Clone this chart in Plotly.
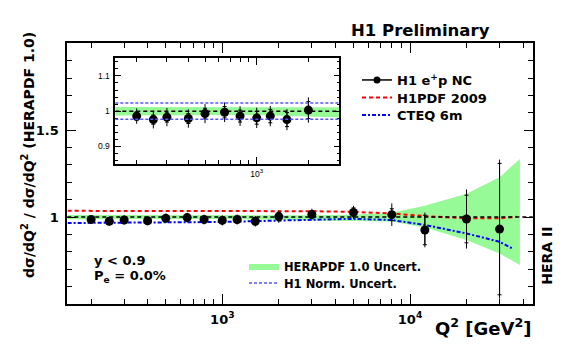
import plotly.graph_objects as go

W, H = 567, 354
def px(x): return x / W
def py(y): return 1 - y / H

# ---------------- data ----------------
q2 = [200, 250, 300, 400, 500, 650, 800, 1000, 1200, 1500, 2000, 3000, 5000, 8000, 12000, 20000, 30000]
ratio = [0.986, 0.976, 0.983, 0.979, 0.993, 0.997, 0.986, 0.981, 0.986, 0.976, 1.003,
         1.016, 1.027, 1.014, 0.926, 0.989, 0.931]
err_tot = [0.022, 0.025, 0.026, 0.026, 0.027, 0.028, 0.028, 0.029, 0.029, 0.030, 0.036,
           0.032, 0.038, 0.065, 0.100, 0.170, 0.400]
err_stat = [0.012, 0.013, 0.014, 0.014, 0.015, 0.016, 0.017, 0.018, 0.019, 0.020, 0.024,
            0.022, 0.026, 0.034, 0.085, 0.137, 0.378]
n_inset = 11  # points shown in the inset (Q2 <= 2000)

band_q2 = [150, 500, 1000, 2000, 3000, 5000, 8000, 12000, 20000, 30000, 38500]
band_hi = [1.012, 1.011, 1.010, 1.010, 1.011, 1.014, 1.025, 1.065, 1.135, 1.230, 1.335]
band_lo = [0.988, 0.989, 0.989, 0.985, 0.980, 0.978, 0.975, 0.940, 0.868, 0.790, 0.724]

h1pdf_q2 = [150, 1000, 3000, 5000, 8000, 12000, 20000, 30000, 37000]
h1pdf_r = [1.036, 1.036, 1.034, 1.030, 1.021, 1.006, 0.993, 0.993, 1.002]

cteq_q2 = [150, 300, 1000, 2000, 3000, 5000, 8000, 12000, 20000, 30000, 35000]
cteq_r = [0.966, 0.968, 0.972, 0.980, 0.986, 0.990, 0.983, 0.955, 0.906, 0.858, 0.820]

norm_hi, norm_lo = 1.023, 0.977
ref_level = 1.0

x_major = [1000, 10000]
x_major_text = ["10<sup>3</sup>", "10<sup>4</sup>"]
x_minor_main = [200, 300, 400, 500, 600, 700, 800, 900, 2000, 3000, 4000, 5000, 6000, 7000,
                8000, 9000, 20000, 30000, 40000]
x_minor_inset = [200, 300, 400, 500, 600, 700, 800, 900, 2000, 3000]
y_major_main = [1, 1.5]
y_minor_main = [0.6, 0.7, 0.8, 0.9, 1.1, 1.2, 1.3, 1.4, 1.6, 1.7, 1.8, 1.9]
y_major_inset = [0.9, 1, 1.1]
y_minor_inset = [0.86, 0.88, 0.92, 0.94, 0.96, 0.98, 1.02, 1.04, 1.06, 1.08, 1.12, 1.14]

GREEN = "rgb(150,250,150)"
BOLD = dict(family="DejaVu Sans", weight="bold", color="black")

fig = go.Figure()

# ---- main panel ----
fig.add_trace(go.Scatter(x=band_q2, y=band_lo, mode="lines", line=dict(width=0),
                         showlegend=False, hoverinfo="skip", xaxis="x", yaxis="y"))
fig.add_trace(go.Scatter(x=band_q2, y=band_hi, mode="lines", line=dict(width=0),
                         fill="tonexty", fillcolor=GREEN, name="HERAPDF 1.0 Uncert.",
                         legend="legend4", xaxis="x", yaxis="y"))
fig.add_trace(go.Scatter(x=h1pdf_q2, y=h1pdf_r, mode="lines",
                         line=dict(color="#FF0000", width=2, dash="4px,3px"),
                         name="H1PDF 2009", legend="legend2", xaxis="x", yaxis="y"))
fig.add_trace(go.Scatter(x=cteq_q2, y=cteq_r, mode="lines",
                         line=dict(color="#0000FF", width=2, dash="4px,2px,2px,2px"),
                         name="CTEQ 6m", legend="legend3", xaxis="x", yaxis="y"))
fig.add_trace(go.Scatter(x=q2, y=ratio, mode="markers",
                         marker=dict(size=9, color="black"),
                         error_y=dict(type="data", array=err_tot, color="black",
                                      thickness=1, width=0),
                         showlegend=False, xaxis="x", yaxis="y"))
fig.add_trace(go.Scatter(x=q2, y=ratio, mode="markers",
                         marker=dict(size=1, color="black"),
                         error_y=dict(type="data", array=err_stat, color="black",
                                      thickness=1, width=2),
                         showlegend=False, xaxis="x", yaxis="y"))
# legend entry for data
fig.add_trace(go.Scatter(x=[None], y=[None], mode="lines+markers",
                         marker=dict(size=7, color="black"), line=dict(color="black", width=1.5),
                         name="H1 e<sup>+</sup>p NC", legend="legend",
                         xaxis="x", yaxis="y"))
# legend entry for normalisation uncertainty
fig.add_trace(go.Scatter(x=[None], y=[None], mode="lines",
                         line=dict(color="#5555FF", width=1.5, dash="3px,2px"),
                         name="H1 Norm. Uncert.", legend="legend5",
                         xaxis="x", yaxis="y"))

# ---- inset ----
fig.add_trace(go.Scatter(x=band_q2, y=band_lo, mode="lines", line=dict(width=0),
                         showlegend=False, hoverinfo="skip", xaxis="x2", yaxis="y2"))
fig.add_trace(go.Scatter(x=band_q2, y=band_hi, mode="lines", line=dict(width=0),
                         fill="tonexty", fillcolor=GREEN, showlegend=False,
                         xaxis="x2", yaxis="y2"))
fig.add_trace(go.Scatter(x=q2[:n_inset], y=ratio[:n_inset], mode="markers",
                         marker=dict(size=9, color="black"),
                         error_y=dict(type="data", array=err_tot[:n_inset], color="black",
                                      thickness=1, width=0),
                         showlegend=False, xaxis="x2", yaxis="y2"))
fig.add_trace(go.Scatter(x=q2[:n_inset], y=ratio[:n_inset], mode="markers",
                         marker=dict(size=1, color="black"),
                         error_y=dict(type="data", array=err_stat[:n_inset], color="black",
                                      thickness=1, width=2),
                         showlegend=False, xaxis="x2", yaxis="y2"))

# reference / normalisation lines
for xr, yr in (("x domain", "y"), ("x2 domain", "y2")):
    fig.add_shape(type="line", xref=xr, yref=yr, x0=0, x1=1, y0=ref_level, y1=ref_level,
                  line=dict(color="black", width=1.5, dash="4px,3px"), layer="above")
for v in (norm_hi, norm_lo):
    fig.add_shape(type="line", xref="x2 domain", yref="y2", x0=0, x1=1, y0=v, y1=v,
                  line=dict(color="#5555FF", width=1.5, dash="3px,2px"), layer="above")

axis_common = dict(showline=True, linecolor="black", mirror="ticks", ticks="inside",
                   tickcolor="black", tickwidth=1, showgrid=False, zeroline=False)

def leg(xl, yc, size):
    return dict(x=px(xl), y=py(yc), xanchor="left", yanchor="middle",
                bgcolor="rgba(0,0,0,0)", font=dict(size=size, **BOLD))

fig.update_layout(
    width=W, height=H, margin=dict(l=0, r=0, t=0, b=0),
    paper_bgcolor="white", plot_bgcolor="white",
    xaxis=dict(type="log", range=[2.1742, 4.6537], domain=[px(67.3), px(532.7)], anchor="y",
               linewidth=2, ticklen=10, tickvals=x_major, ticktext=x_major_text,
               tickfont=dict(size=13, **BOLD), ticklabelstandoff=2,
               minor=dict(tickmode="array", tickvals=x_minor_main, ticks="inside",
                          ticklen=5, tickcolor="black", tickwidth=1),
               **axis_common),
    yaxis=dict(range=[0.5, 2.0], domain=[py(304), py(43.3)], anchor="x",
               linewidth=2, ticklen=9, tickvals=y_major_main, ticktext=["1", "1.5"],
               tickfont=dict(size=13, **BOLD), ticklabelstandoff=4,
               minor=dict(tickmode="array", tickvals=y_minor_main, ticks="inside",
                          ticklen=5, tickcolor="black", tickwidth=1),
               **axis_common),
    xaxis2=dict(type="log", range=[2.1765, 3.481], domain=[px(115.3), px(339.3)], anchor="y2",
                linewidth=1.5, ticklen=7, tickvals=[1000], ticktext=["10<sup>3</sup>"],
                tickfont=dict(size=8.5, family="Liberation Sans", color="black"),
                ticklabelstandoff=1,
                minor=dict(tickmode="array", tickvals=x_minor_inset, ticks="inside",
                           ticklen=4, tickcolor="black", tickwidth=1),
                **axis_common),
    yaxis2=dict(range=[0.85, 1.15], domain=[py(164), py(58.3)], anchor="x2",
                linewidth=1.5, ticklen=6, tickvals=y_major_inset, ticktext=["0.9", "1", "1.1"],
                tickfont=dict(size=8.5, family="Liberation Sans", color="black"),
                ticklabelstandoff=2,
                minor=dict(tickmode="array", tickvals=y_minor_inset, ticks="inside",
                           ticklen=3, tickcolor="black", tickwidth=1),
                **axis_common),
    legend=leg(357, 80, 13),
    legend2=leg(357, 97.5, 13),
    legend3=leg(357, 115, 13),
    legend4=leg(244, 266, 11.5),
    legend5=leg(244, 283, 11.5),
)

annotations = [
    dict(text="H1 Preliminary", x=px(492), y=py(30.5), xanchor="right", yanchor="middle",
         font=dict(size=16.5, **BOLD)),
    dict(text="y &lt; 0.9", x=px(91.7), y=py(260.5), xanchor="left", yanchor="middle",
         font=dict(size=13, **BOLD)),
    dict(text="P<sub>e</sub> = 0.0%", x=px(91.7), y=py(276), xanchor="left", yanchor="middle",
         font=dict(size=13, **BOLD)),
    dict(text="HERA II", x=px(546.7), y=py(256), xanchor="center", yanchor="middle",
         textangle=-90, font=dict(size=14, **BOLD)),
    dict(text="Q<sup>2</sup> [GeV<sup>2</sup>]", x=px(533), y=py(327), xanchor="right",
         yanchor="middle", font=dict(size=18, **BOLD)),
    dict(text="dσ/dQ<sup>2</sup> / dσ/dQ<sup>2</sup> (HERAPDF 1.0)", x=px(28), y=py(155),
         xanchor="center", yanchor="middle", textangle=-90, font=dict(size=14, **BOLD)),
]
for a in annotations:
    fig.add_annotation(xref="paper", yref="paper", showarrow=False, **a)

fig.write_html("out.html")
